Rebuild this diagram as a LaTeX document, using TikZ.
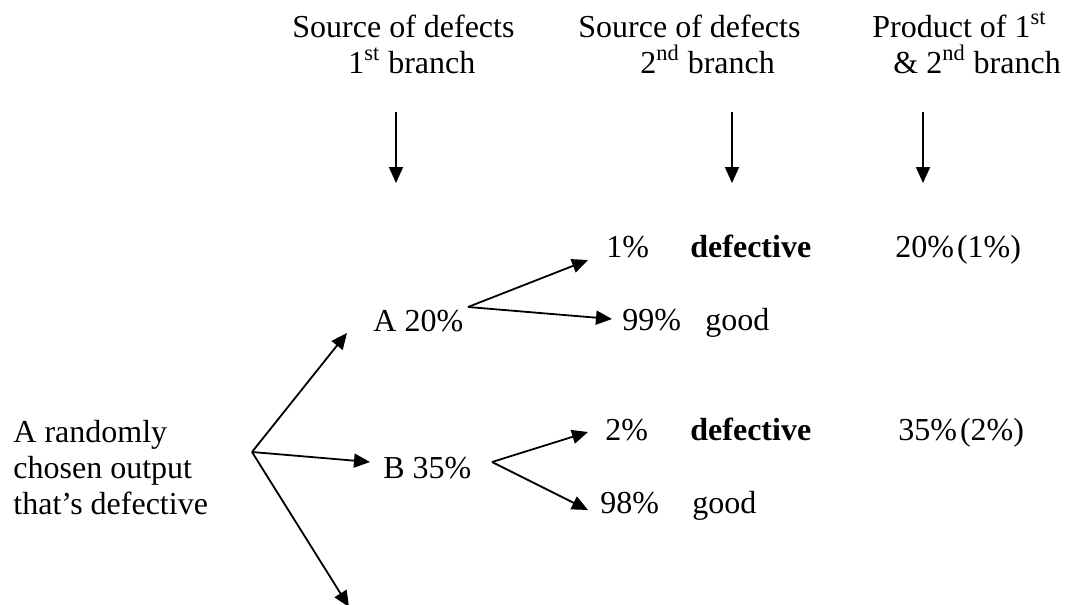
\documentclass[tikz,border=0pt]{standalone}
\usepackage{fontspec}
\setmainfont{Liberation Serif}
\usepackage{tikz}
\usetikzlibrary{arrows.meta}
\tikzset{arr/.style={-{Triangle[length=8pt,width=7pt]}, line width=0.9pt},
  lbl/.style={anchor=base west, inner sep=0pt}}

\begin{document}
\begin{tikzpicture}[x=0.5pt, y=-0.5pt, font=\fontsize{16}{18}\selectfont]
  \clip (0,0) rectangle (1066,605);
  % column headings
  \node[lbl] (h1a) at (292,37) {Source of defects};
  \node[lbl] (h1b) at (348,73) {1\textsuperscript{st} branch};
  \node[lbl] (h2a) at (578,37) {Source of defects};
  \node[lbl] (h2b) at (640,73) {2\textsuperscript{nd} branch};
  \node[lbl] (h3a) at (872,37) {Product of 1\textsuperscript{st}};
  \node[lbl] (h3b) at (893,73) {\& 2\textsuperscript{nd} branch};
  \foreach \x [count=\i] in {396,732,923} {
    \coordinate (top\i) at (\x,112);
    \coordinate (bot\i) at (\x,183);
    \draw[arr] (top\i) -- (bot\i);
  }
  % tree
  \node[lbl, align=left] (start) at (13,514) {A randomly\\chosen output\\that’s defective};
  \node[lbl] (A) at (373,331) {A 20\%};
  \node[lbl] (B) at (383,478) {B 35\%};
  \node[lbl] (p1) at (606,257) {1\%};
  \node[lbl] (d1) at (690,257) {\textbf{defective}};
  \node[lbl] (r1) at (895,257) {20\%\kern1.5pt(1\%)};
  \node[lbl] (p99) at (622,330) {99\%};
  \node[lbl] (g1) at (705,330) {good};
  \node[lbl] (p2) at (605,440) {2\%};
  \node[lbl] (d2) at (690,440) {\textbf{defective}};
  \node[lbl] (r2) at (898,440) {35\%\kern1.5pt(2\%)};
  \node[lbl] (p98) at (600,513) {98\%};
  \node[lbl] (g2) at (692,513) {good};
  \coordinate (root) at (252,452);
  \coordinate (toA) at (347,333);
  \coordinate (toB) at (370,462);
  \coordinate (toC) at (349,607);
  \coordinate (forkA) at (468,307);
  \coordinate (to1) at (588,260);
  \coordinate (to99) at (612,319);
  \coordinate (forkB) at (492,462);
  \coordinate (to2) at (588,432);
  \coordinate (to98) at (588,510);
  \draw[arr] (root) -- (toA);
  \draw[arr] (root) -- (toB);
  \draw[arr] (root) -- (toC);
  \draw[arr] (forkA) -- (to1);
  \draw[arr] (forkA) -- (to99);
  \draw[arr] (forkB) -- (to2);
  \draw[arr] (forkB) -- (to98);
\end{tikzpicture}
\end{document}
